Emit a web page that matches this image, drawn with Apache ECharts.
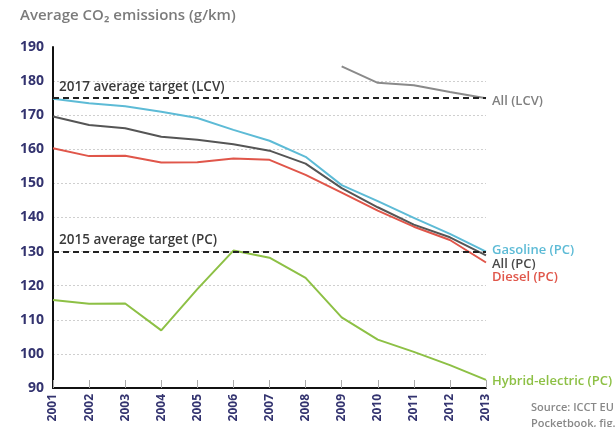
<!DOCTYPE html>
<html><head><meta charset="utf-8">
<script src="https://cdn.jsdelivr.net/npm/echarts@6/dist/echarts.min.js"></script>
<style>html,body{margin:0;padding:0;background:#fff}#c{width:615px;height:427px}</style>
</head><body><div id="c"></div>
<script>
const years = ['2001','2002','2003','2004','2005','2006','2007','2008','2009','2010','2011','2012','2013'];
const gasolinePC = [174.8, 173.5, 172.6, 171.0, 169.2, 165.7, 162.5, 157.8, 149.5, 144.8, 139.9, 135.2, 130.0];
const allPC      = [169.6, 167.1, 166.2, 163.7, 162.8, 161.5, 159.6, 155.8, 148.6, 143.0, 137.9, 134.2, 128.9];
const dieselPC   = [160.3, 158.0, 158.1, 156.1, 156.2, 157.3, 156.9, 152.5, 147.3, 142.0, 137.3, 133.4, 126.8];
const hybridPC   = [115.8, 114.7, 114.8, 106.9, 119.0, 130.3, 128.2, 122.3, 110.7, 104.2, 100.6, 96.7, 92.4];
const allLCV     = [null, null, null, null, null, null, null, null, 184.3, 179.5, 178.8, 176.8, 175.0];
const targetLCV = 175, targetPC = 130;
const yTicks = [90,100,110,120,130,140,150,160,170,180,190];

const font = '"Open Sans", "Noto Sans", sans-serif';
const navy = '#33336f';
const chart = echarts.init(document.getElementById('c'));
function lineSeries(name, data, color, label, offset, lblColor) {
  return {
    name, type: 'line', data, symbol: 'none', smooth: false,
    lineStyle: { color, width: 2 }, itemStyle: { color },
    endLabel: { show: true, formatter: label, color: lblColor || color, fontFamily: font,
      fontWeight: 600, fontSize: 13, offset, distance: 6 },
    z: 3
  };
}
chart.setOption({
  animation: false,
  title: { text: 'Average CO₂ emissions (g/km)', left: 15, top: 3,
    textStyle: { color: '#7b7b7b', fontFamily: font, fontWeight: 600, fontSize: 15 } },
  grid: { left: 53, right: 129, top: 47, bottom: 39 },
  xAxis: {
    type: 'category', data: years, boundaryGap: false,
    axisLine: { lineStyle: { color: '#111', width: 2 } },
    axisTick: { inside: true, length: 8, lineStyle: { color: '#aaa', width: 1 } },
    axisLabel: { rotate: 90, color: navy, fontFamily: font, fontWeight: 700, fontSize: 12, margin: 6 },
    splitLine: { show: false }
  },
  yAxis: {
    type: 'value', min: yTicks[0], max: yTicks[yTicks.length-1], interval: 10,
    axisLine: { show: true, lineStyle: { color: '#111', width: 2 } },
    axisTick: { show: false },
    axisLabel: { color: navy, fontFamily: font, fontWeight: 700, fontSize: 14, margin: 9 },
    splitLine: { show: true, lineStyle: { type: [2, 2], width: 1,
      color: ['rgba(0,0,0,0)','#cfcfcf','#cfcfcf','#cfcfcf','#cfcfcf','#cfcfcf','#cfcfcf','#cfcfcf','#cfcfcf','#cfcfcf','rgba(0,0,0,0)'] } }
  },
  series: [
    lineSeries('Hybrid-electric (PC)', hybridPC, '#8dc045', 'Hybrid-electric (PC)', [0, 1]),
    lineSeries('Diesel (PC)', dieselPC, '#e0564a', 'Diesel (PC)', [0, 15]),
    lineSeries('All (PC)', allPC, '#555555', 'All (PC)', [0, 9], '#4a4a4a'),
    lineSeries('Gasoline (PC)', gasolinePC, '#5dbbd6', 'Gasoline (PC)', [0, -1]),
    lineSeries('All (LCV)', allLCV, '#8a8a8a', 'All (LCV)', [0, 3], '#808080'),
    {
      name: 'targets', type: 'line', data: [], symbol: 'none', z: 2,
      markLine: {
        silent: true, symbol: 'none',
        lineStyle: { color: '#222', type: [6, 4], width: 2 },
        label: { position: 'insideStartTop', color: '#3a3a3a', fontFamily: font, fontWeight: 600, fontSize: 13.5, distance: [6, 4] },
        data: [
          [{ coord: [years[0], targetLCV], name: '2017 average target (LCV)' }, { coord: [years[years.length-1], targetLCV] }],
          [{ coord: [years[0], targetPC], name: '2015 average target (PC)' }, { coord: [years[years.length-1], targetPC] }]
        ]
      }
    }
  ],
  graphic: [
    { type: 'text', left: 531, top: 400, style: { text: 'Source: ICCT EU\nPocketbook, fig.', fill: '#888', font: '600 11px ' + font, lineHeight: 16 } }
  ]
});
</script></body></html>
